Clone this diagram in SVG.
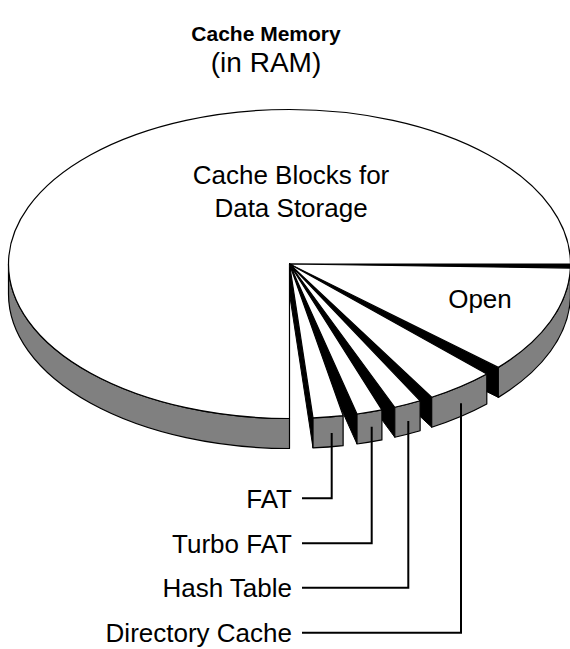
<svg xmlns="http://www.w3.org/2000/svg" width="570" height="649" viewBox="0 0 570 649">
  <style>
    .top { fill: #ffffff; stroke: #000; stroke-width: 1.2; stroke-linejoin: round; }
    .side { fill: #808080; stroke: #000; stroke-width: 1.2; stroke-linejoin: round; }
    .face { fill: #000; stroke: #000; stroke-width: 1; stroke-linejoin: round; }
    .lbl { font-family: "Liberation Sans", Arial, sans-serif; font-size: 26px; fill: #000; }
    .lead { fill: none; stroke: #000; stroke-width: 2; }
  </style>
  <rect width="570" height="649" fill="#ffffff"/>

  <!-- title -->
  <g id="title">
    <text x="266" y="41" text-anchor="middle" class="lbl" style="font-weight:bold;font-size:21px">Cache Memory</text>
    <text x="266" y="72" text-anchor="middle" class="lbl" style="font-size:28px">(in RAM)</text>
  </g>

  <!-- large slice: 90deg .. 360deg -->
  <g id="slice-cache-blocks">
    <path class="face" d="M289.5 264 L570.5 264 L570.5 294 L289.5 294 Z"/>
    <path class="side" d="M289.5 418.5 A281 154.5 0 0 1 8.5 264 L8.5 294 A281 154.5 0 0 0 289.5 448.5 Z"/>
    <path class="top" d="M289.5 264 L289.5 418.5 A281 154.5 0 1 1 570.5 264 Z"/>
    <text x="291" y="184" text-anchor="middle" class="lbl">Cache Blocks for</text>
    <text x="291" y="217" text-anchor="middle" class="lbl">Data Storage</text>
  </g>

  <!-- Open: 1.5deg .. 42deg -->
  <g id="slice-open">
    <path class="face" d="M289.5 264 L498.32 367.38 L498.32 397.38 L289.5 294 Z"/>
    <path class="side" d="M570.4 268.04 A281 154.5 0 0 1 498.32 367.38 L498.32 397.38 A281 154.5 0 0 0 570.4 298.04 Z"/>
    <path class="top" d="M289.5 264 L570.4 268.04 A281 154.5 0 0 1 498.32 367.38 Z"/>
    <text x="480" y="308" text-anchor="middle" class="lbl">Open</text>
  </g>

  <!-- Directory Cache: 45.4deg .. 59.6deg -->
  <g id="slice-directory-cache">
    <path class="face" d="M289.5 264 L431.69 397.26 L431.69 427.26 L289.5 294 Z"/>
    <path class="side" d="M486.8 374.01 A281 154.5 0 0 1 431.69 397.26 L431.69 427.26 A281 154.5 0 0 0 486.8 404.01 Z"/>
    <path class="top" d="M289.5 264 L486.8 374.01 A281 154.5 0 0 1 431.69 397.26 Z"/>
  </g>

  <!-- Hash Table: 62.3deg .. 68deg -->
  <g id="slice-hash-table">
    <path class="face" d="M289.5 264 L394.77 407.25 L394.77 437.25 L289.5 294 Z"/>
    <path class="side" d="M420.12 400.79 A281 154.5 0 0 1 394.77 407.25 L394.77 437.25 A281 154.5 0 0 0 420.12 430.79 Z"/>
    <path class="top" d="M289.5 264 L420.12 400.79 A281 154.5 0 0 1 394.77 407.25 Z"/>
  </g>

  <!-- Turbo FAT: 70.8deg .. 76.1deg -->
  <g id="slice-turbo-fat">
    <path class="face" d="M289.5 264 L357 413.98 L357 443.98 L289.5 294 Z"/>
    <path class="side" d="M381.91 409.91 A281 154.5 0 0 1 357 413.98 L357 443.98 A281 154.5 0 0 0 381.91 439.91 Z"/>
    <path class="top" d="M289.5 264 L381.91 409.91 A281 154.5 0 0 1 357 413.98 Z"/>
  </g>

  <!-- FAT: 79deg .. 85.2deg -->
  <g id="slice-fat">
    <path class="face" d="M289.5 264 L313.01 417.96 L313.01 447.96 L289.5 294 Z"/>
    <path class="side" d="M343.12 415.66 A281 154.5 0 0 1 313.01 417.96 L313.01 447.96 A281 154.5 0 0 0 343.12 445.66 Z"/>
    <path class="top" d="M289.5 264 L343.12 415.66 A281 154.5 0 0 1 313.01 417.96 Z"/>
  </g>

  <!-- callouts -->
  <g id="connectors">
    <path class="lead" d="M302 498.3 H331.7 V433"/>
    <path class="lead" d="M302 543.3 H371.7 V426.7"/>
    <path class="lead" d="M302 587.7 H408.3 V421"/>
    <path class="lead" d="M302 632.7 H461 V403.3"/>
  </g>

  <g id="label-fat"><text x="292" y="507.5" text-anchor="end" class="lbl">FAT</text></g>
  <g id="label-turbo-fat"><text x="292" y="552.5" text-anchor="end" class="lbl">Turbo FAT</text></g>
  <g id="label-hash-table"><text x="292" y="597" text-anchor="end" class="lbl">Hash Table</text></g>
  <g id="label-directory-cache"><text x="292" y="642" text-anchor="end" class="lbl">Directory Cache</text></g>
</svg>
